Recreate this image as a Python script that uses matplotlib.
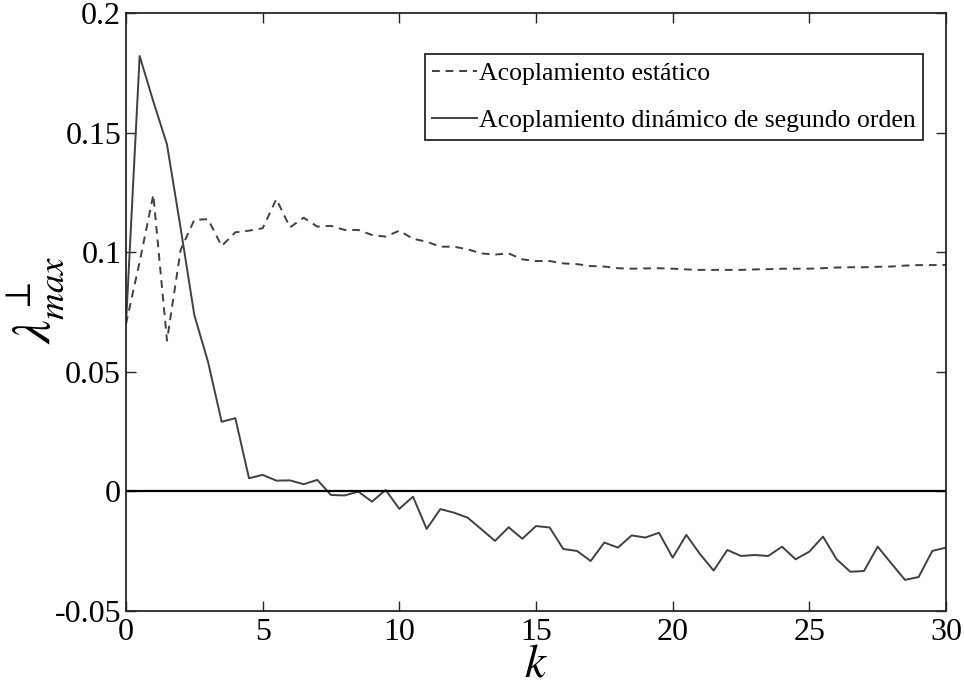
import matplotlib
matplotlib.use("Agg")
import matplotlib.pyplot as plt
import numpy as np

plt.rcParams['font.family'] = ['Liberation Serif', 'DejaVu Serif']
plt.rcParams['mathtext.fontset'] = 'stix'

# k from 0 to 30 in steps of 0.5
k = np.arange(0, 30.5, 0.5)

estatico = [0.070, 0.096, 0.124, 0.063, 0.101, 0.1135, 0.1138, 0.1026, 0.1083, 0.109,
            0.110, 0.1222, 0.1104, 0.1144, 0.1107, 0.1110, 0.1093, 0.1093, 0.1072, 0.1065,
            0.1090, 0.1056, 0.1044, 0.1023, 0.1023, 0.1012, 0.0995, 0.0990, 0.0995, 0.0970,
            0.0963, 0.0963, 0.0953, 0.0950, 0.0942, 0.0940, 0.0933, 0.0931, 0.0932, 0.0933,
            0.0931, 0.0928, 0.0926, 0.0926, 0.0926, 0.0926, 0.0928, 0.0929, 0.0931, 0.0931,
            0.0931, 0.0933, 0.0936, 0.0937, 0.0937, 0.0939, 0.0940, 0.0944, 0.0946, 0.0946,
            0.0947]

dinamico = [0.070, 0.182, 0.163, 0.145, 0.110, 0.0737, 0.0542, 0.0291, 0.0306, 0.0055,
            0.0069, 0.0045, 0.0046, 0.0030, 0.0048, -0.0015, -0.0017, -0.0001, -0.0043, 0.0006,
            -0.0073, -0.0022, -0.0157, -0.0074, -0.0089, -0.0110, -0.0158, -0.0207, -0.0150, -0.0198,
            -0.0145, -0.0151, -0.0241, -0.0249, -0.0291, -0.0214, -0.0235, -0.0184, -0.0193, -0.0173,
            -0.0277, -0.0182, -0.0262, -0.0331, -0.0245, -0.0270, -0.0266, -0.0270, -0.0231, -0.0284,
            -0.0252, -0.0189, -0.0284, -0.0336, -0.0333, -0.0231, -0.0301, -0.0370, -0.0358, -0.0249,
            -0.0235]

yticks = [-0.05, 0, 0.05, 0.1, 0.15, 0.2]
ytick_labels = ['-0.05', '0', '0.05', '0.1', '0.15', '0.2']
xticks = [0, 5, 10, 15, 20, 25, 30]

fig = plt.figure(figsize=(9.64, 6.91), dpi=100)
ax = fig.add_axes([0.1307, 0.1158, 0.8506, 0.8654])

ax.plot(k, estatico, '--', color='#404040', lw=1.4, dashes=(4, 3), label='Acoplamiento estático')
ax.plot(k, dinamico, '-', color='#404040', lw=1.4, label='Acoplamiento dinámico de segundo orden')
ax.axhline(0, color='black', lw=1.6)

ax.set_xlim(0, 30)
ax.set_ylim(-0.05, 0.2)
ax.set_xticks(xticks)
ax.set_xticklabels([str(t) for t in xticks])
ax.set_yticks(yticks)
ax.set_yticklabels(ytick_labels)
ax.tick_params(direction='in', length=7, width=1, top=True, right=True, labelsize=23,
               colors='#262626', labelcolor='black')
ax.tick_params(axis='x', pad=5)
for s in ax.spines.values():
    s.set_linewidth(1.3)
    s.set_color('#262626')

ax.set_xlabel(r'$k$', fontsize=34, labelpad=-2)
ax.set_ylabel(r'$\lambda^{\perp}_{max}$', fontsize=38)
ax.yaxis.set_label_coords(-0.072, 0.52)

leg = ax.legend(loc='upper right', bbox_to_anchor=(0.972, 0.931), borderaxespad=0,
                fontsize=18.5, handlelength=1.75, handletextpad=0.05, borderpad=0.3,
                labelspacing=0.95, fancybox=False, edgecolor='#262626', framealpha=1)
leg.get_frame().set_linewidth(1.3)

fig.savefig('out.png', dpi=100)
